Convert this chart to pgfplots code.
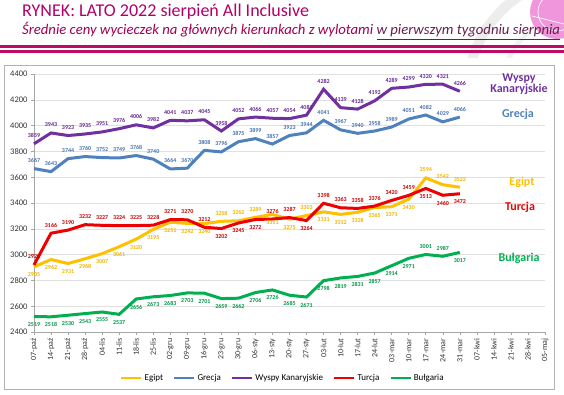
\documentclass[border=0pt]{standalone}
\usepackage{pgfplots}
\pgfplotsset{compat=1.18}
\usepackage{pgfplotstable}
\usepackage{fontspec}
\setmainfont{Carlito}
\definecolor{cEg}{RGB}{255,192,0}
\definecolor{cEgL}{RGB}{240,180,0}
\definecolor{cGr}{RGB}{79,129,189}
\definecolor{cGrL}{RGB}{70,115,175}
\definecolor{cWy}{RGB}{112,48,160}
\definecolor{cWyL}{RGB}{100,40,145}
\definecolor{cTu}{RGB}{238,0,0}
\definecolor{cTuL}{RGB}{200,0,0}
\definecolor{cBu}{RGB}{0,176,80}
\definecolor{cBuL}{RGB}{0,150,70}
\definecolor{cTitle}{RGB}{178,0,106}
\definecolor{cSub}{RGB}{160,0,85}
\definecolor{cSub2}{RGB}{105,30,80}
\definecolor{cStripe}{RGB}{190,10,100}
\definecolor{cGlobe}{RGB}{240,150,220}

% x y p (p = label shift in pt; positive above, negative below)
\pgfplotstableread{
x y p
0 2905 -8
1 2962 -8
2 2931 -8
3 2968 -8
4 3007 -8
5 3061 -8
6 3120 -8
7 3195 -8
8 3251 -8
9 3242 -8
10 3240 -8
11 3258 8
12 3262 8
13 3289 8
14 3311 -8
15 3275 -8
16 3303 8
17 3331 -8
18 3312 -8
19 3328 -8
20 3365 -8
21 3371 -8
22 3430 -8
23 3594 8
24 3542 8
25 3522 8
}\tEg
\pgfplotstableread{
x y p
0 3667 8
1 3643 8
2 3744 8
3 3760 8
4 3752 8
5 3749 8
6 3768 8
7 3740 8
8 3664 8
9 3670 8
10 3808 8
11 3796 8
12 3875 8
13 3899 8
14 3857 8
15 3923 8
16 3944 8
17 4041 8
18 3967 8
19 3940 8
20 3958 8
21 3989 8
22 4051 8
23 4082 8
24 4029 8
25 4066 8
}\tGr
\pgfplotstableread{
x y p
0 3859 8
1 3943 8
2 3923 8
3 3935 8
4 3951 8
5 3976 8
6 4006 8
7 3982 8
8 4041 8
9 4037 8
10 4045 8
11 3958 8
12 4052 8
13 4066 8
14 4057 8
15 4054 8
16 4081 8
17 4282 8
18 4139 8
19 4128 8
20 4192 8
21 4289 8
22 4299 8
23 4320 8
24 4321 8
25 4266 8
}\tWy
\pgfplotstableread{
x y p
0 2920 8
1 3166 8
2 3190 8
3 3232 8
4 3227 8
5 3224 8
6 3225 8
7 3228 8
8 3271 8
9 3270 8
10 3212 8
11 3202 -8
12 3245 -8
13 3272 -8
14 3276 8
15 3287 8
16 3264 -8
17 3398 8
18 3363 8
19 3358 8
20 3376 8
21 3420 8
22 3459 8
23 3513 -8
24 3460 -8
25 3472 -8
}\tTu
\pgfplotstableread{
x y p
0 2519 -8
1 2518 -8
2 2530 -8
3 2543 -8
4 2555 -8
5 2537 -8
6 2656 -8
7 2673 -8
8 2683 -8
9 2703 -8
10 2701 -8
11 2659 -8
12 2662 -8
13 2706 -8
14 2726 -8
15 2685 -8
16 2671 -8
17 2798 -8
18 2819 -8
19 2831 -8
20 2857 -8
21 2914 -8
22 2971 -8
23 3001 8
24 2987 8
25 3017 -8
}\tBu

\begin{document}
\begin{tikzpicture}[x=1pt,y=1pt]
\useasboundingbox (0pt,0pt) rectangle (564pt,394pt);
% decorative header arcs and globe
\begin{scope}
\clip (400pt,336pt) rectangle (564pt,394pt);
\draw[black!7, line width=10pt] (585pt,300pt) circle[radius=118pt];
\draw[black!5, line width=5pt] (585pt,300pt) circle[radius=84pt];
\end{scope}
\fill[cGlobe] (557pt,382pt) circle[radius=27pt];
\draw[white, line width=0.7pt] (557pt,382pt) circle[radius=19pt];
\draw[white, line width=0.7pt] (532pt,378pt) -- (564pt,370pt);
% title
\node[anchor=base west, inner sep=0, text=cTitle, font=\fontsize{18}{20}\selectfont] at (22pt,377pt) {RYNEK: LATO 2022 sierpień All Inclusive};
\node[anchor=base west, inner sep=0, text=cSub, font=\fontsize{14.7}{16}\selectfont\itshape] at (22pt,359pt) {Średnie ceny wycieczek na głównych kierunkach z wylotami \textcolor{cSub2}{\underline{w pierwszym tygodniu sierpnia}}};
\fill[cStripe] (0pt,345.5pt) rectangle (564pt,349pt);
\fill[cStripe] (0pt,340.5pt) rectangle (564pt,344pt);
% frame
\draw[black!30, line width=0.8pt] (4pt,5pt) rectangle (554pt,329pt);
\begin{axis}[
  at={(34pt,62pt)}, anchor=south west,
  width=511pt, height=258pt, scale only axis,
  xmin=0, xmax=30, ymin=2400, ymax=4400,
  ytick={2400,2600,...,4400},
  xtick={0,...,30},
  xticklabels={07-paź,14-paź,21-paź,28-paź,04-lis,11-lis,18-lis,25-lis,02-gru,09-gru,16-gru,23-gru,30-gru,06-sty,13-sty,20-sty,27-sty,03-lut,10-lut,17-lut,24-lut,03-mar,10-mar,17-mar,24-mar,31-mar,07-kwi,14-kwi,21-kwi,28-kwi,05-maj},
  xticklabel style={rotate=90, anchor=east, font=\fontsize{8}{9}\selectfont, text=black!80},
  yticklabel style={font=\fontsize{8.5}{10}\selectfont, text=black!80},
  /pgf/number format/assume math mode=true,
  /pgf/number format/set thousands separator={},
  axis x line*=bottom, axis y line*=left,
  axis line style={black!35, line width=0.6pt},
  tick style={black!35, line width=0.6pt},
  tick align=outside, major tick length=3pt,
  ymajorgrids, grid style={black!12, line width=0.6pt},
  clip=false,
  legend columns=5,
  legend style={draw=none, fill=none, at={(0.487,-0.178)}, anchor=center, font=\fontsize{9}{10}\selectfont, /tikz/every even column/.append style={column sep=8pt}},
  legend image code/.code={\draw[#1, line width=2.5pt] (0pt,0pt) -- (20pt,0pt);},
  every axis plot/.append style={line width=3pt},
  nodes near coords,
  point meta=explicit,
  visualization depends on={\thisrow{p} \as \pp},
  every node near coord/.append style={anchor=center, yshift=\pp pt, font=\fontsize{6}{7}\selectfont\bfseries, inner sep=0pt},
]
\addplot[cEg, nodes near coords style={text=cEgL}] table[x=x, y=y, meta=y] {\tEg};
\addlegendentry{Egipt}
\addplot[cGr, nodes near coords style={text=cGrL}] table[x=x, y=y, meta=y] {\tGr};
\addlegendentry{Grecja}
\addplot[cWy, nodes near coords style={text=cWyL}] table[x=x, y=y, meta=y] {\tWy};
\addlegendentry{Wyspy Kanaryjskie}
\addplot[cTu, nodes near coords style={text=cTuL}] table[x=x, y=y, meta=y] {\tTu};
\addlegendentry{Turcja}
\addplot[cBu, nodes near coords style={text=cBuL}] table[x=x, y=y, meta=y] {\tBu};
\addlegendentry{Bułgaria}
\end{axis}
% series names at right
\node[text=cWy, font=\fontsize{12}{13}\selectfont\bfseries, align=center] at (519pt,310pt) {Wyspy\\[-2pt]Kanaryjskie};
\node[text=cGr, font=\fontsize{12}{13}\selectfont\bfseries] at (518pt,280pt) {Grecja};
\node[text=cEg, font=\fontsize{12}{13}\selectfont\bfseries] at (522pt,212pt) {Egipt};
\node[text=cTu, font=\fontsize{12}{13}\selectfont\bfseries] at (520pt,187pt) {Turcja};
\node[text=cBu, font=\fontsize{12}{13}\selectfont\bfseries] at (519pt,136pt) {Bułgaria};
\end{tikzpicture}
\end{document}
